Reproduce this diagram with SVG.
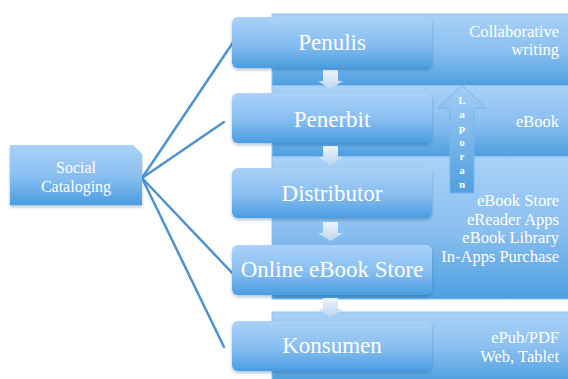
<svg xmlns="http://www.w3.org/2000/svg" width="568" height="379" viewBox="0 0 568 379">
<defs>
<linearGradient id="gBand" x1="0" y1="0" x2="0" y2="1">
<stop offset="0" stop-color="#a9d1f7"/>
<stop offset="0.5" stop-color="#8cc0f0"/>
<stop offset="1" stop-color="#4d9fe0"/>
</linearGradient>
<linearGradient id="gBox" x1="0" y1="0" x2="0" y2="1">
<stop offset="0" stop-color="#abd2f8"/>
<stop offset="0.55" stop-color="#86bdf0"/>
<stop offset="1" stop-color="#4a9de0"/>
</linearGradient>
<linearGradient id="gDown" x1="0" y1="0" x2="0" y2="1">
<stop offset="0" stop-color="#eef4fb"/>
<stop offset="1" stop-color="#bcd6f0"/>
</linearGradient>
<linearGradient id="gUp" x1="0" y1="0" x2="0" y2="1">
<stop offset="0" stop-color="#a4cdf5"/>
<stop offset="1" stop-color="#4f9fe0"/>
</linearGradient>
<filter id="sh" x="-10%" y="-10%" width="120%" height="130%">
<feDropShadow dx="0" dy="2" stdDeviation="1.5" flood-color="#1e4f80" flood-opacity="0.35"/>
</filter>
</defs>
<style>
.band{fill:url(#gBand);stroke:#8ec2f0;stroke-width:1}
.box{fill:url(#gBox);filter:url(#sh)}
.down{fill:url(#gDown)}
.t{font-family:"Liberation Serif","DejaVu Serif",serif;fill:#ffffff}
.nt{font-size:23px;text-anchor:middle}
.rt{font-size:16.5px;text-anchor:end}
.lp{font-size:11px;font-weight:bold;text-anchor:middle}
.conn{stroke:#4f92d0;stroke-width:2.5;fill:none;stroke-linecap:round}
</style>
<g id="bands">
<rect class="band" x="272" y="14" width="300" height="71.5"/>
<rect class="band" x="272" y="85.5" width="300" height="71"/>
<rect class="band" x="272" y="157" width="300" height="142"/>
<rect class="band" x="272" y="312" width="300" height="70"/>
</g>
<g id="connectors">
<line class="conn" x1="142" y1="178" x2="236" y2="38"/>
<line class="conn" x1="142" y1="178" x2="224" y2="122"/>
<line class="conn" x1="142" y1="178" x2="236" y2="277"/>
<line class="conn" x1="142" y1="178" x2="224" y2="347"/>
</g>
<g id="flow-arrows">
<polygon class="down" points="323,70 338,70 338,81 343,81 330.5,89 318,81 323,81"/>
<polygon class="down" points="323,146 338,146 338,157 343,157 330.5,165 318,157 323,157"/>
<polygon class="down" points="323,222 338,222 338,233 343,233 330.5,241 318,233 323,233"/>
<polygon class="down" points="323,298 338,298 338,309 343,309 330.5,317 318,309 323,309"/>
</g>
<g id="laporan">
<polygon points="462,85 486,108 474,108 474,193 450,193 450,108 438,108" fill="url(#gUp)" stroke="#7ab4ea" stroke-width="1"/>
<text class="t lp" x="462" y="104">L</text>
<text class="t lp" x="462" y="118">a</text>
<text class="t lp" x="462" y="132">p</text>
<text class="t lp" x="462" y="146">o</text>
<text class="t lp" x="462" y="160">r</text>
<text class="t lp" x="462" y="174">a</text>
<text class="t lp" x="462" y="188">n</text>
</g>
<g id="social">
<path class="box" d="M10,145 H133 L142,154 V205 H10 Z"/>
<text class="t" x="76" y="173" font-size="16" text-anchor="middle">Social</text>
<text class="t" x="76" y="192" font-size="16" text-anchor="middle">Cataloging</text>
</g>
<g id="penulis">
<rect class="box" x="232" y="17" width="200" height="51" rx="6"/>
<text class="t nt" x="332" y="50">Penulis</text>
</g>
<g id="penerbit">
<rect class="box" x="232" y="93" width="200" height="50" rx="6"/>
<text class="t nt" x="332" y="127">Penerbit</text>
</g>
<g id="distributor">
<rect class="box" x="232" y="168" width="200" height="50" rx="6"/>
<text class="t nt" x="332" y="201">Distributor</text>
</g>
<g id="online">
<rect class="box" x="232" y="245" width="200" height="50" rx="6"/>
<text class="t nt" x="332" y="277">Online eBook Store</text>
</g>
<g id="konsumen">
<rect class="box" x="232" y="321" width="200" height="50" rx="6"/>
<text class="t nt" x="332" y="353">Konsumen</text>
</g>
<g id="labels">
<text class="t rt" x="559" y="37">Collaborative</text>
<text class="t rt" x="559" y="55">writing</text>
<text class="t rt" x="559" y="127">eBook</text>
<text class="t rt" x="559" y="206">eBook Store</text>
<text class="t rt" x="559" y="224.5">eReader Apps</text>
<text class="t rt" x="559" y="243">eBook Library</text>
<text class="t rt" x="559" y="262">In-Apps Purchase</text>
<text class="t rt" x="559" y="343">ePub/PDF</text>
<text class="t rt" x="559" y="362">Web, Tablet</text>
</g>
</svg>
